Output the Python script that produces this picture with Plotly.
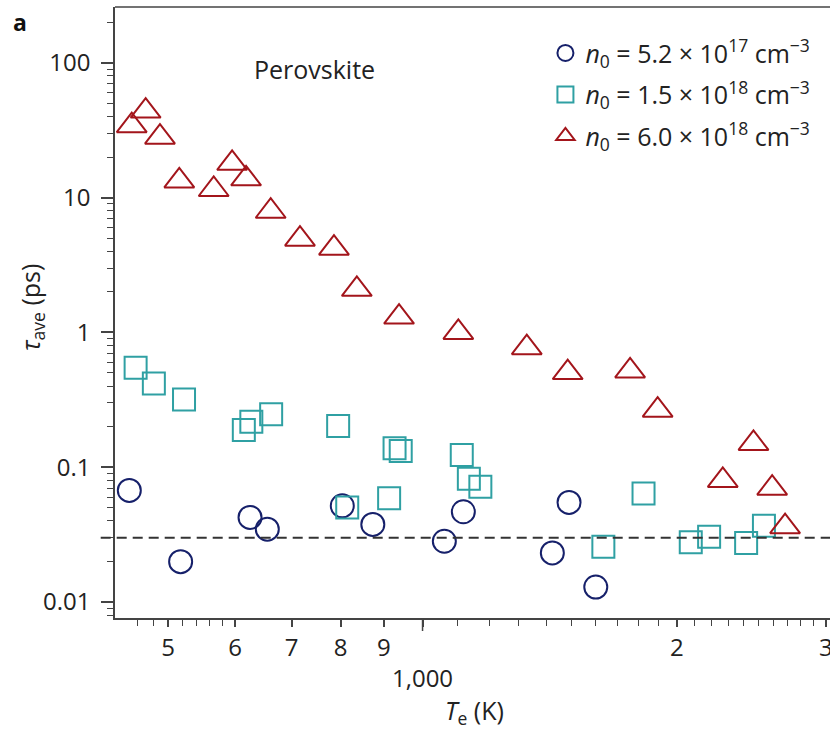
import numpy as np
import plotly.graph_objects as go

# ---- data ----
te_circ = [449.8, 517.3, 625.0, 655.1, 803.6, 873.3, 1061.2, 1117.6, 1424.3, 1490.6, 1603.2]
tau_circ = [0.0672, 0.0199, 0.0424, 0.0347, 0.0517, 0.0376, 0.0282, 0.0467, 0.0231, 0.0548, 0.0129]

te_sq = [457.6, 480.9, 522.1, 614.5, 627.2, 662.0, 794.6, 926.6, 942.3, 1112.8,
         1134.5, 1170.6, 913.0, 814.5, 1826.0, 1636.7, 2076.8, 2183.3, 2415.0, 2535.0]
tau_sq = [0.548, 0.418, 0.318, 0.189, 0.217, 0.247, 0.202, 0.138, 0.132, 0.123,
          0.0819, 0.0717, 0.0589, 0.0503, 0.0639, 0.0257, 0.0277, 0.0305, 0.0274, 0.0367]

te_tri = [452.8, 470.3, 489.0, 515.4, 566.1, 595.2, 618.3, 661.2, 716.1, 785.6, 836.1,
          938.0, 1102.4, 1328.5, 1485.2, 1760.4, 1897.7, 2266.1, 2463.8, 2592.4, 2685.4]
tau_tri = [34.2, 43.9, 28.1, 13.3, 11.5, 18.0, 13.8, 7.93, 4.92, 4.22, 2.09,
           1.30, 1.00, 0.770, 0.504, 0.518, 0.265, 0.0797, 0.150, 0.0698, 0.0362]

labels = ["<i>n</i><sub>0</sub> = 5.2 × 10<sup>17</sup> cm<sup>−3</sup>",
          "<i>n</i><sub>0</sub> = 1.5 × 10<sup>18</sup> cm<sup>−3</sup>",
          "<i>n</i><sub>0</sub> = 6.0 × 10<sup>18</sup> cm<sup>−3</sup>"]

x_tickvals = [500, 600, 700, 800, 900, 1000, 2000, 3000]
x_ticktext = ["5", "6", "7", "8", "9", "<br>1,000", "2", "3"]
x_minor = [460, 480, 520, 540, 560, 580] + list(range(1100, 2000, 100)) + list(range(2100, 3000, 100))

y_tickvals = [0.01, 0.1, 1, 10, 100]
y_ticktext = ["0.01", "0.1", "1", "10", "100"]
y_minor = [m * 10.0 ** e for e in range(-3, 3) for m in range(2, 10)]

baseline = 0.03

x_range = [432.6, 3035.0]
y_range = [0.0076, 260.0]

FONT = "Open Sans"
TXT = "#222222"
AX = "#444444"

fig = go.Figure()
fig.add_trace(go.Scatter(x=te_circ, y=tau_circ, mode="markers", name=labels[0], legendgroup="g1",
                         marker=dict(symbol="circle-open", size=23, color="#16206a", line=dict(width=2))))
fig.add_trace(go.Scatter(x=te_sq, y=tau_sq, mode="markers", name=labels[1], legendgroup="g2",
                         marker=dict(symbol="square-open", size=22, color="#2fa0a3", line=dict(width=2))))
fig.add_trace(go.Scatter(x=te_tri, y=tau_tri, mode="markers", name=labels[2], legendgroup="g3",
                         marker=dict(symbol="triangle-up-open", size=26, color="#a3151b", line=dict(width=2))))

fig.update_layout(
    width=830, height=731,
    margin=dict(l=115, r=0, t=7, b=113, autoexpand=False),
    paper_bgcolor="white", plot_bgcolor="white",
    font=dict(family=FONT, size=24, color=TXT),
    showlegend=True,
    legend=dict(x=0.602, y=0.962, xanchor="left", yanchor="top", bgcolor="rgba(0,0,0,0)",
                font=dict(family=FONT, size=25, color=TXT), traceorder="grouped", tracegroupgap=6),
    xaxis=dict(type="log", range=[np.log10(x_range[0]), np.log10(x_range[1])],
               tickmode="array", tickvals=x_tickvals, ticktext=x_ticktext, tickangle=0,
               ticks="outside", ticklen=7, tickwidth=1.5, tickcolor=AX,
               ticklabeloverflow="allow", automargin=False,
               showline=True, linecolor=AX, linewidth=1.5, showgrid=False, zeroline=False,
               tickfont=dict(family=FONT, size=24, color=TXT),
               minor=dict(tickmode="array", tickvals=x_minor, ticks="outside", ticklen=6,
                          tickwidth=1.2, tickcolor=AX, showgrid=False)),
    yaxis=dict(type="log", range=[np.log10(y_range[0]), np.log10(y_range[1])],
               tickmode="array", tickvals=y_tickvals, ticktext=y_ticktext,
               ticks="outside", ticklen=12, tickwidth=1.5, tickcolor=AX, ticklabelstandoff=6,
               automargin=False,
               showline=True, linecolor=AX, linewidth=1.5, showgrid=False, zeroline=False,
               tickfont=dict(family=FONT, size=24, color=TXT),
               minor=dict(tickmode="array", tickvals=y_minor, ticks="outside", ticklen=6,
                          tickwidth=1.2, tickcolor=AX, showgrid=False)),
)

# top border, long 1000 tick, dashed reference line
fig.add_shape(type="line", xref="paper", yref="paper", x0=0, x1=1, y0=1, y1=1,
              line=dict(color=AX, width=1.5))
fig.add_shape(type="line", xref="x", yref="paper", x0=1000, x1=1000, y0=0, y1=-13 / 611,
              line=dict(color=AX, width=1.5))
fig.add_shape(type="line", xref="paper", yref="y", x0=-0.02, x1=1, y0=baseline, y1=baseline,
              line=dict(color="#333333", width=2, dash="10px,6px"))

fig.add_annotation(text="Perovskite", xref="paper", yref="paper", x=0.2797, y=0.899,
                   showarrow=False, xanchor="center", yanchor="middle",
                   font=dict(family=FONT, size=25, color=TXT))
fig.add_annotation(text="<b>a</b>", xref="paper", yref="paper", x=-0.133, y=0.975,
                   showarrow=False, xanchor="center", yanchor="middle",
                   font=dict(family=FONT, size=23, color="#111111"))
fig.add_annotation(text="<i>T</i><sub>e</sub> (K)", xref="paper", yref="paper", x=0.503, y=-0.153,
                   showarrow=False, xanchor="center", yanchor="middle",
                   font=dict(family=FONT, size=25, color=TXT))
fig.add_annotation(text="<i>τ</i><sub>ave</sub> (ps)", xref="paper", yref="paper", x=-0.117, y=0.508,
                   showarrow=False, xanchor="center", yanchor="middle", textangle=-90,
                   font=dict(family=FONT, size=25, color=TXT))

fig.write_html("out.html")
